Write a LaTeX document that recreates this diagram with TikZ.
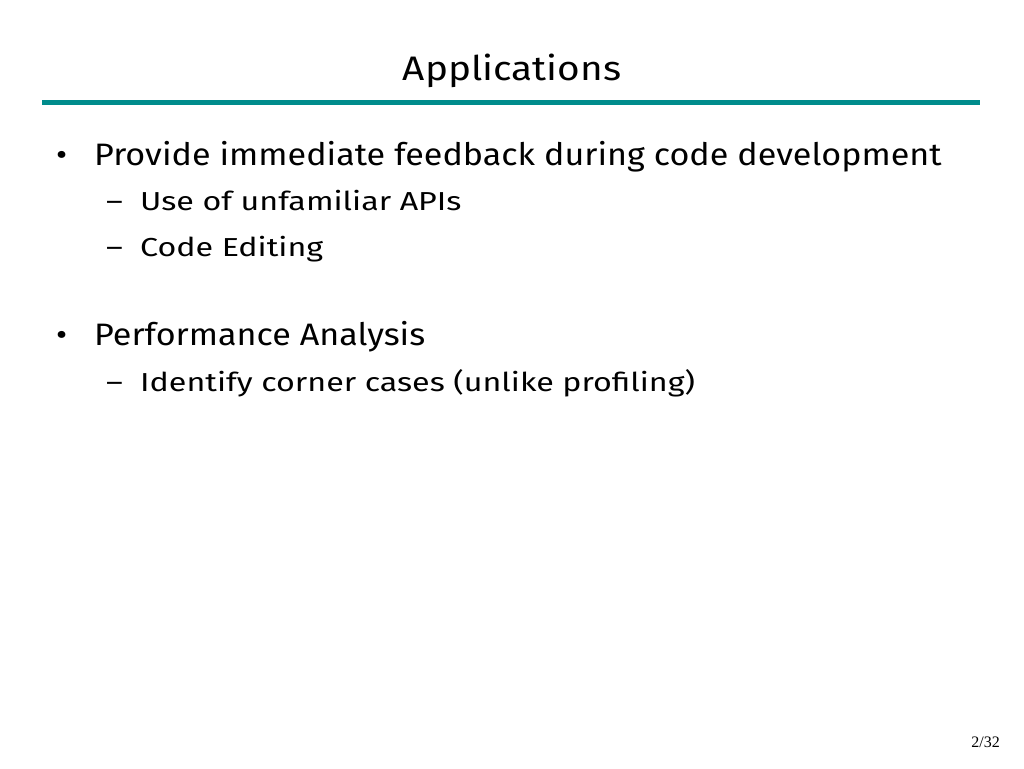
\documentclass[tikz,border=0pt]{standalone}
\usepackage{fontspec}
\setmainfont{Fira Sans}
\newfontfamily\widea[FakeStretch=1.10]{Fira Sans}
\newfontfamily\wideb[FakeStretch=1.24]{Fira Sans}
\newfontfamily\widet[FakeStretch=1.14]{Fira Sans}
\newfontfamily\pgnum{Liberation Serif}
\definecolor{teal1}{RGB}{0,140,140}
\begin{document}
\begin{tikzpicture}[x=1pt,y=-1pt,
  big/.style={anchor=base west,inner sep=0,font=\widea\fontsize{31}{34}\selectfont},
  small/.style={anchor=base west,inner sep=0,font=\wideb\fontsize{26}{28}\selectfont}]
\useasboundingbox (0,0) rectangle (1024,768);
\node[anchor=base,inner sep=0,font=\widet\fontsize{34}{40}\selectfont] (title) at (512,81) {Applications};
\draw[teal1,line width=5pt] (42,102) coordinate (l1) -- (980,102) coordinate (l2);
\node[big] (b1) at (56,165) {•};
\node[big] (t1) at (94,165) {Provide immediate feedback during code development};
\node[small] (d1) at (106,210) {–};
\node[small] (s1) at (140,210) {Use of unfamiliar APIs};
\node[small] (d2) at (106,256) {–};
\node[small] (s2) at (140,256) {Code Editing};
\node[big] (b2) at (56,345) {•};
\node[big] (t2) at (94,345) {Performance Analysis};
\node[small] (d3) at (106,391) {–};
\node[small] (s3) at (140,391) {Identify corner cases (unlike profiling)};
\node[anchor=base east,inner sep=0,font=\pgnum\fontsize{16}{18}\selectfont] (pg) at (1000,747) {2/32};
\end{tikzpicture}
\end{document}
